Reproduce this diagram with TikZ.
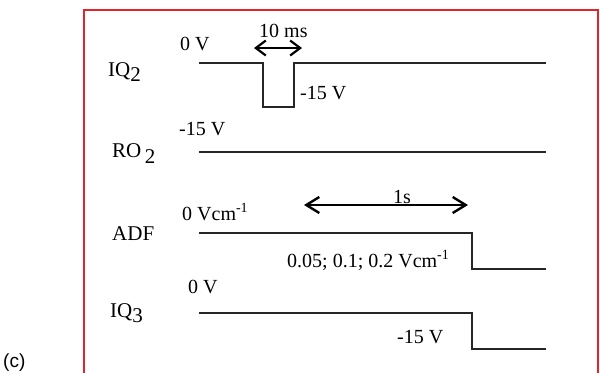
\documentclass[tikz,border=0pt]{standalone}
\usepackage{fontspec}
\setmainfont{Liberation Serif}
\newfontfamily\capsans{Liberation Sans}
\usetikzlibrary{arrows.meta}
\definecolor{framered}{RGB}{224,36,44}
\begin{document}
\begin{tikzpicture}[x=1pt,y=-1pt,
  wave/.style={line width=1.5pt, black!85},
  lbl/.style={anchor=base west, inner sep=0pt, font=\fontsize{20}{20}\selectfont},
  sig/.style={anchor=base west, inner sep=0pt, font=\fontsize{21}{21}\selectfont},
  durarrow/.style={line width=2.2pt, {Straight Barb[length=10pt,width=15pt]}-{Straight Barb[length=10pt,width=15pt]}},
  longarrow/.style={line width=2.4pt, {Straight Barb[length=13pt,width=16pt]}-{Straight Barb[length=13pt,width=16pt]}},
]
\useasboundingbox (0,0) rectangle (600,373);
% frame
\draw[framered, line width=1.8pt] (84,373) -- (84,10) -- (598,10) -- (598,373);

% IQ2
\node[sig] (iq2) at (108,76) {IQ\raisebox{-5pt}{2}};
\node[lbl] (iq2hi) at (180,50) {0 V};
\node[lbl] (iq2lo) at (300,99) {-15 V};
\node[lbl] (t10) at (259,37) {10 ms};
\draw[wave] (199,63) -- (263,63) -- (263,107) -- (294,107) -- (294,63) -- (546,63);
\coordinate (a1) at (254,48);
\coordinate (a2) at (302,48);
\draw[durarrow] (a1) -- (a2);

% RO2
\node[sig] (ro2) at (112,157) {RO\,\raisebox{-6pt}{2}};
\node[lbl] (ro2v) at (179,135) {-15 V};
\draw[wave] (199,152) -- (546,152);

% ADF
\node[sig] (adf) at (112,240) {ADF};
\node[lbl] (adfhi) at (182,220) {0 Vcm\textsuperscript{-1}};
\node[lbl] (adflo) at (287,267) {0.05; 0.1; 0.2 Vcm\textsuperscript{-1}};
\node[lbl] (t1s) at (393,203) {1s};
\coordinate (b1) at (304,205);
\coordinate (b2) at (468,205);
\draw[longarrow] (b1) -- (b2);
\draw[wave] (199,233) -- (472,233) -- (472,269) -- (546,269);

% IQ3
\node[sig] (iq3) at (110,317) {IQ\raisebox{-5pt}{3}};
\node[lbl] (iq3hi) at (188,293) {0 V};
\node[lbl] (iq3lo) at (397,343) {-15 V};
\draw[wave] (199,313) -- (472,313) -- (472,349) -- (546,349);

% panel letter
\node[anchor=base west, inner sep=0pt, font=\capsans\fontsize{19}{19}\selectfont] (pc) at (3,367) {(c)};
\end{tikzpicture}
\end{document}
